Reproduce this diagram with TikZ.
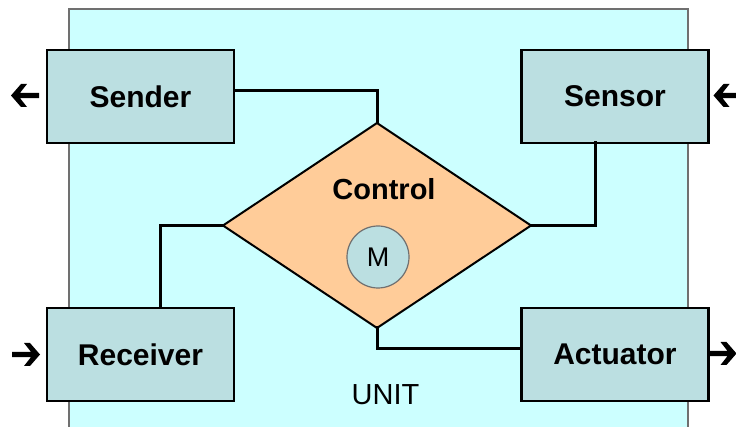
\documentclass[tikz,border=0pt]{standalone}
\usepackage{fontspec}
\setmainfont{Liberation Sans}
\usetikzlibrary{shapes.geometric,calc}
\definecolor{unitfill}{HTML}{CCFFFF}
\definecolor{boxfill}{HTML}{BBDFE1}
\definecolor{ctrlfill}{HTML}{FFCC99}
\definecolor{unitline}{HTML}{707070}
\begin{document}
\begin{tikzpicture}[x=1pt,y=-1pt,
  block/.style={draw=black,line width=2.5pt,fill=boxfill,minimum width=187pt,minimum height=93pt,inner sep=0pt,outer sep=0pt,font=\fontsize{30}{36}\selectfont\bfseries},
  wire/.style={draw=black,line width=3pt,line cap=rect},
  fatarrow/.pic={\fill[black] (0,0) -- (10,-11.5) -- (16,-11.5) -- (9,-2.6) -- (28,-2.6) -- (28,2.6) -- (9,2.6) -- (16,11.5) -- (10,11.5) -- cycle;}
]
\useasboundingbox (0,0) rectangle (736,427);
\clip (0,0) rectangle (736,427);
\fill[white] (0,0) rectangle (736,427);
% unit
\draw[unitline,line width=1.5pt,fill=unitfill] (69,9) rectangle (688,445);
\node[font=\fontsize{29}{34}\selectfont] (unitlabel) at (385.5,395) {UNIT};
% control diamond
\node[diamond,draw=black,line width=2pt,fill=ctrlfill,minimum width=308pt,minimum height=205pt,inner sep=0pt,outer sep=0pt] (ctrl) at (377,225.5) {};
\node[font=\fontsize{29}{34}\selectfont\bfseries] (ctrllabel) at (384,189) {Control};
\node[circle,draw=unitline,line width=1.2pt,fill=boxfill,minimum size=62pt,inner sep=0pt,font=\fontsize{27}{32}\selectfont] (m) at (378,257) {M};
% blocks
\node[block] (sender) at (140.5,96.5) {Sender};
\node[block] (sensor) at (615,96.5) {Sensor};
\node[block] (receiver) at (140.5,354.5) {Receiver};
\node[block] (actuator) at (615,354.5) {Actuator};
% wires
\draw[wire] ([yshift=6pt]sender.east) -| (ctrl.north);
\draw[wire] ([xshift=-20pt]sensor.south) |- (ctrl.east);
\draw[wire] ([xshift=20pt]receiver.north) |- (ctrl.west);
\draw[wire] (ctrl.south) |- ([yshift=5.5pt]actuator.west);
% outer arrows
\coordinate (senderout) at ([xshift=-36pt,yshift=1pt]sender.west);
\coordinate (sensorin) at ([xshift=5pt,yshift=1pt]sensor.east);
\coordinate (receiverin) at ([xshift=-7pt]receiver.west);
\coordinate (actuatorout) at ([xshift=28pt,yshift=1pt]actuator.east);
\pic at (senderout) {fatarrow};
\pic at (sensorin) {fatarrow};
\pic[xscale=-1] at (receiverin) {fatarrow};
\pic[xscale=-1] at (actuatorout) {fatarrow};
\end{tikzpicture}
\end{document}
